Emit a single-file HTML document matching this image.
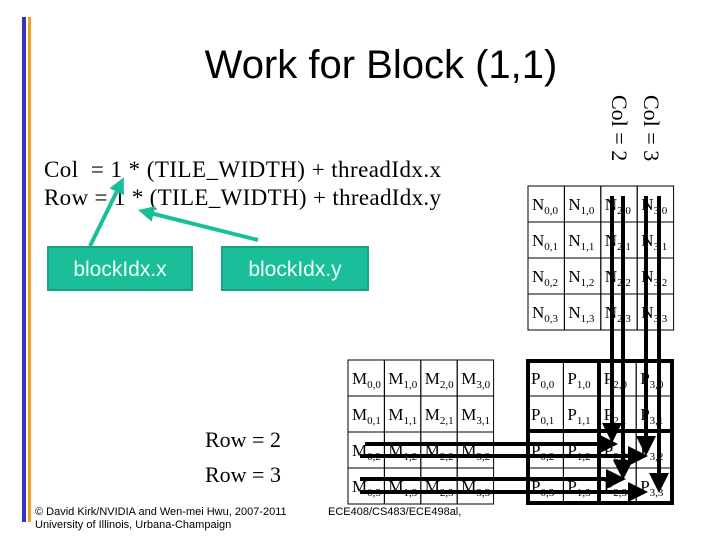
<!DOCTYPE html>
<html><head><meta charset="utf-8"><style>
html,body{margin:0;padding:0;background:#fff;}
svg{display:block;}
.s{font-family:"Liberation Serif",serif;}
.a{font-family:"Liberation Sans",sans-serif;}
</style></head><body>
<svg width="720" height="540" viewBox="0 0 720 540" xmlns="http://www.w3.org/2000/svg">
<defs>
<marker id="bk" markerWidth="5" markerHeight="5" refX="3.5" refY="2.5" orient="auto" markerUnits="strokeWidth"><path d="M0,0 L5,2.5 L0,5 z" fill="#000"/></marker>
<marker id="gr" markerWidth="4" markerHeight="4" refX="3" refY="2" orient="auto" markerUnits="strokeWidth"><path d="M0,0 L4,2 L0,4 z" fill="#1abf9a"/></marker>
</defs>
<rect x="22" y="17" width="4" height="505" fill="#3333bb"/>
<rect x="28" y="17" width="3" height="505" fill="#f0a020"/>
<text x="381" y="78" text-anchor="middle" class="a" font-size="40">Work for Block (1,1)</text>
<g class="s" font-size="22">
<text transform="translate(644,95) rotate(90)">Col = 3</text>
<text transform="translate(612,95) rotate(90)">Col = 2</text>
<text x="44" y="177" font-size="23" textLength="397">Col &#160;= 1 * (TILE_WIDTH) + threadIdx.x</text>
<text x="44" y="205" font-size="23" textLength="397">Row = 1 * (TILE_WIDTH) + threadIdx.y</text>
<text x="205" y="447">Row = 2</text>
<text x="205" y="482">Row = 3</text>
</g>
<rect x="48" y="247" width="144" height="43" fill="#1abf9a" stroke="#17a383" stroke-width="2"/>
<rect x="222" y="247" width="146" height="43" fill="#1abf9a" stroke="#17a383" stroke-width="2"/>
<text x="120" y="276" text-anchor="middle" class="a" font-size="21" fill="#eefff8">blockIdx.x</text>
<text x="295" y="276" text-anchor="middle" class="a" font-size="21" fill="#eefff8">blockIdx.y</text>
<line x1="90" y1="246" x2="122" y2="181" stroke="#1abf9a" stroke-width="4" marker-end="url(#gr)"/>
<line x1="258" y1="240" x2="142" y2="211" stroke="#1abf9a" stroke-width="4" marker-end="url(#gr)"/>
<g class="a" font-size="11">
<text x="35" y="515">© David Kirk/NVIDIA and Wen-mei Hwu, 2007-2011</text>
<text x="35" y="528">University of Illinois, Urbana-Champaign</text>
<text x="328" y="515">ECE408/CS483/ECE498al,</text>
</g>
<g id="grids" class="s" font-size="17" stroke="none">
</g>
<script>
(function(){
var ns="http://www.w3.org/2000/svg",g=document.getElementById("grids");
function el(t,a,txt){var e=document.createElementNS(ns,t);for(var k in a)e.setAttribute(k,a[k]);if(txt!=null)e.textContent=txt;g.appendChild(e);return e;}
function grid(L,x0,y0){
 var w=36.4,h=36;
 for(var r=0;r<4;r++)for(var c=0;c<4;c++){
  el("rect",{x:x0+c*w,y:y0+r*h,width:w,height:h,fill:"none",stroke:"#000","stroke-width":1});
  var t=el("text",{x:x0+c*w+4,y:y0+r*h+24});
  t.appendChild(document.createTextNode(L));
  var ts=document.createElementNS(ns,"tspan");ts.setAttribute("font-size","11");ts.setAttribute("dy","4");ts.textContent=c+","+r;t.appendChild(ts);
 }
}
grid("N",528,186);grid("M",348,360);grid("P",527,360);
el("rect",{x:528,y:361,width:144,height:142,fill:"none",stroke:"#000","stroke-width":4});
el("line",{x1:599,y1:361,x2:599,y2:503,stroke:"#000","stroke-width":4});
el("line",{x1:528,y1:431,x2:672,y2:431,stroke:"#000","stroke-width":4});
[[612,437],[623,474],[646,450],[659,487]].forEach(function(v){
 el("line",{x1:v[0],y1:196,x2:v[0],y2:v[1],stroke:"#000","stroke-width":4,"marker-end":"url(#bk)"});
});
[[365,444,612],[360,456,642],[360,479,620],[360,492,642]].forEach(function(v){
 el("line",{x1:v[0],y1:v[1],x2:v[2],y2:v[1],stroke:"#000","stroke-width":4,"marker-end":"url(#bk)"});
});
})();
</script>
</svg>
</body></html>
